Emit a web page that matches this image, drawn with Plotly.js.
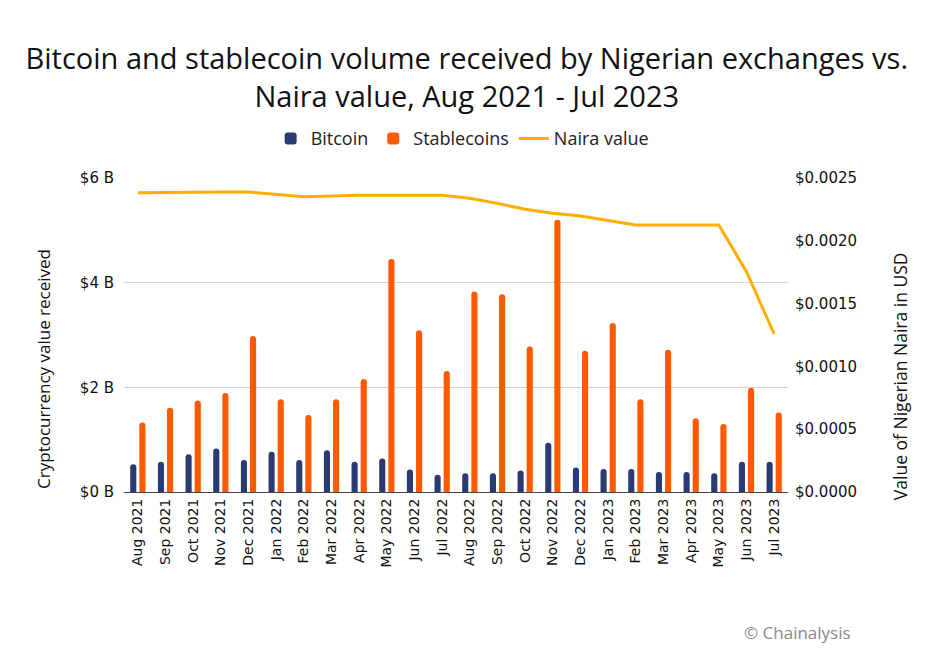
<!DOCTYPE html>
<html>
<head>
<meta charset="utf-8">
<script src="https://cdn.plot.ly/plotly-3.0.1.min.js"></script>
<style>html,body{margin:0;padding:0;background:#fff;}#chart{width:928px;height:653px;}</style>
</head>
<body>
<div id="chart"></div>
<script>
const months = ["Aug 2021","Sep 2021","Oct 2021","Nov 2021","Dec 2021","Jan 2022","Feb 2022","Mar 2022","Apr 2022","May 2022","Jun 2022","Jul 2022","Aug 2022","Sep 2022","Oct 2022","Nov 2022","Dec 2022","Jan 2023","Feb 2023","Mar 2023","Apr 2023","May 2023","Jun 2023","Jul 2023"];
const bitcoin = [0.53,0.58,0.72,0.83,0.61,0.77,0.61,0.80,0.58,0.64,0.43,0.33,0.36,0.36,0.41,0.94,0.47,0.44,0.44,0.38,0.38,0.36,0.58,0.58];
const stablecoins = [1.33,1.61,1.75,1.89,2.98,1.77,1.47,1.77,2.16,4.45,3.09,2.31,3.83,3.78,2.78,5.20,2.70,3.23,1.77,2.72,1.41,1.30,1.99,1.52];
const naira = [0.002383,0.002386,0.002389,0.002389,0.002389,0.002370,0.002351,0.002356,0.002362,0.002362,0.002362,0.002362,0.002338,0.002298,0.002251,0.002219,0.002197,0.002160,0.002126,0.002126,0.002126,0.002126,0.001754,0.001258];

const titleFont = "'Open Sans', 'Noto Sans', sans-serif";
const tickFont = "'DejaVu Sans', sans-serif";

const traces = [
  {type:'bar', name:'Bitcoin', x:months, y:bitcoin, marker:{color:'#2a3a72'}, yaxis:'y'},
  {type:'bar', name:'Stablecoins', x:months, y:stablecoins, marker:{color:'#ff5a00'}, yaxis:'y'},
  {type:'scatter', mode:'lines', name:'Naira value', x:months, y:naira, line:{color:'#ffad00', width:3}, yaxis:'y2'}
];

const layout = {
  width:928, height:653,
  paper_bgcolor:'#fff', plot_bgcolor:'#fff',
  margin:{l:124, r:140, t:178, b:161},
  barmode:'group', bargap:0.34, bargroupgap:0.33, barcornerradius:3,
  title:{text:'Bitcoin and stablecoin volume received by Nigerian exchanges vs.<br>Naira value, Aug 2021 - Jul 2023',
    font:{family:titleFont, size:29, color:'#111'}, x:0.503, xanchor:'center', y:0.894, yref:'container', yanchor:'top'},
  showlegend:true,
  legend:{orientation:'h', x:0.51, xanchor:'center', y:1.125, yanchor:'middle', font:{family:titleFont, size:18, color:'#222'}, traceorder:'normal', itemwidth:30},
  xaxis:{type:'category', tickangle:-90, tickfont:{family:tickFont, size:14, color:'#111'}, showgrid:false, showline:true, linecolor:'#444', linewidth:1, ticks:'', fixedrange:true},
  yaxis:{range:[0,6], dtick:2, tickprefix:'$', ticksuffix:' B', showgrid:true, gridcolor:'#d4d4d4', zeroline:false, ticks:'', tickfont:{family:tickFont, size:15, color:'#111'}, ticklabelstandoff:9},
  yaxis2:{range:[0,0.0025], dtick:0.0005, tickformat:'.4f', tickprefix:'$', overlaying:'y', side:'right', showgrid:false, zeroline:false, ticks:'', tickfont:{family:tickFont, size:15, color:'#111'}, ticklabelstandoff:6},
  annotations:[
    {text:'Cryptocurrency value received', xref:'paper', yref:'paper', x:-0.1205, y:0.392, xanchor:'center', yanchor:'middle', textangle:-90, showarrow:false, font:{family:titleFont, size:17, color:'#111'}},
    {text:'Value of Nigerian Naira in USD', xref:'paper', yref:'paper', x:1.1687, y:0.369, xanchor:'center', yanchor:'middle', textangle:-90, showarrow:false, font:{family:titleFont, size:17.5, color:'#111'}},
    {text:'© Chainalysis', xref:'paper', yref:'paper', x:1.098, y:-0.449, xanchor:'right', yanchor:'middle', showarrow:false, font:{family:titleFont, size:17, color:'#8a8a8a'}}
  ]
};
Plotly.newPlot('chart', traces, layout, {displayModeBar:false, staticPlot:true});
</script>
</body>
</html>
